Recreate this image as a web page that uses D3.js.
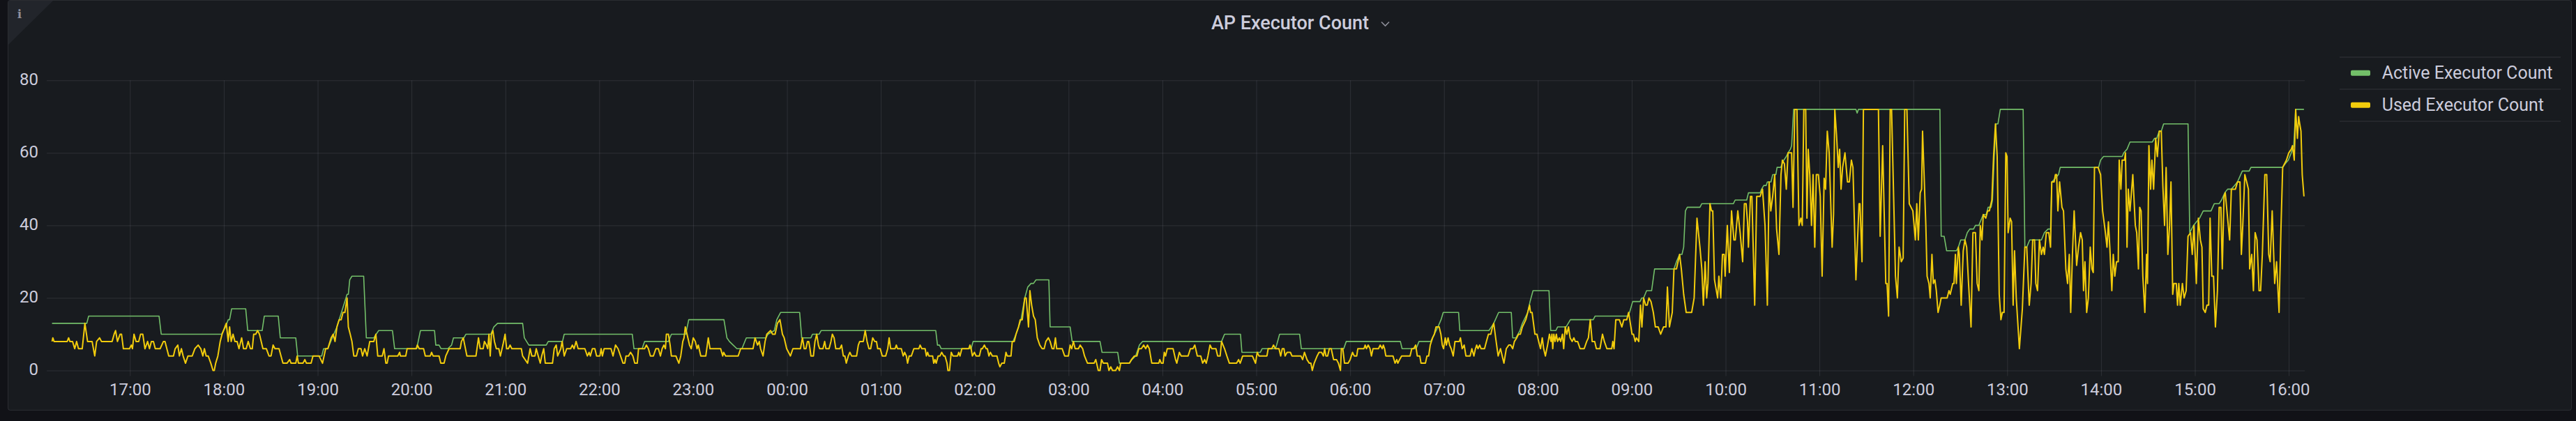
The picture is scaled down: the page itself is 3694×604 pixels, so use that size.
<!DOCTYPE html>
<html>
<head>
<meta charset="utf-8">
<title>AP Executor Count</title>
<script src="https://cdn.jsdelivr.net/npm/d3@7"></script>
<style>
  body { margin: 0; background: #111217; }
  svg { display: block; font-family: Roboto, Inter, sans-serif; }
</style>
</head>
<body>
<div id="chart"></div>
<script>
// minutes after 16:00 on the first day, value
var activePoints = [
  [10.2,13],[32.4,13],[33.6,15],[78.6,15],[80.0,10],[118.6,10],[121.1,12],[122.8,14],[123.7,14],[125.0,17],
  [134.0,17],[135.3,11],[144.5,11],[145.9,15],[154.8,15],[156.1,9],[166.0,9],[167.2,4],[182.6,4],[183.8,6],
  [186.5,6],[190.3,10],[192.3,12],[198.8,21],[199.6,21],[200.5,25],[201.9,26],[209.4,26],[211.1,9],[215.9,9],
  [219.0,11],[227.8,11],[229.2,6],[243.3,6],[245.7,11],[254.7,11],[255.5,7],[257.6,7],[258.9,6],[263.2,6],
  [265.6,7],[266.8,9],[273.5,9],[274.8,10],[290.7,10],[292.6,12],[295.0,13],[311.0,13],[312.1,9],[315.0,7],
  [326.1,7],[327.4,8],[336.5,8],[337.6,10],[381.1,10],[382.2,6],[387.4,6],[389.0,8],[404.2,8],[406.1,10],
  [415.3,10],[417.2,14],[439.7,14],[441.6,9],[443.2,8],[445.6,7],[448.0,6],[451.2,6],[454.0,9],[466.6,9],
  [467.9,10],[471.9,11],[473.5,14],[475.9,16],[488.1,16],[489.4,9],[495.3,9],[496.3,10],[500.6,10],[501.8,11],
  [575.1,11],[576.2,7],[577.5,7],[578.6,6],[597.7,6],[599.0,8],[624.5,8],[626.4,10],[629.6,14],[632.0,20],
  [633.9,23],[636.0,24],[637.6,24],[639.2,25],[647.4,25],[648.2,12],[661.0,12],[662.3,8],[680.1,8],[681.4,5],
  [691.4,5],[692.5,2],[698.9,2],[700.5,3],[702.9,4],[705.3,7],[707.3,8],[757.8,8],[759.7,10],[769.9,10],
  [770.8,5],[782.6,5],[783.7,6],[792.2,6],[793.0,7],[794.9,10],[807.7,10],[808.8,6],[835.9,6],[837.5,8],
  [872.1,8],[873.2,6],[882.2,6],[884.0,8],[891.5,8],[896.1,12],[898.1,14],[899.5,16],[909.3,16],[910.1,11],
  [928.7,11],[931.8,13],[934.9,16],[943.0,16],[943.9,9],[946.0,9],[948.5,11],[950.1,13],[953.5,16],[955.0,19],
  [956.9,22],[967.1,22],[968.2,11],[971.5,11],[972.6,12],[978.0,12],[980.8,14],[995.4,14],[996.6,15],[1017.5,15],
  [1018.6,16],[1020.6,19],[1025.3,19],[1026.4,20],[1027.6,20],[1029.5,22],[1032.7,22],[1034.6,28],[1047.0,28],[1048.6,30],
  [1050.6,32],[1052.1,32],[1053.2,34],[1054.3,44],[1055.5,45],[1063.6,45],[1064.8,46],[1085.0,46],[1086.1,47],[1093.5,47],
  [1094.6,49],[1102.1,49],[1103.0,50],[1104.4,51],[1105.9,51],[1106.7,52],[1109.0,52],[1110.1,54],[1112.1,54],[1112.9,56],
  [1115.2,56],[1117.2,58],[1118.8,59],[1119.9,60],[1121.4,61],[1122.2,62],[1123.5,72],[1163.3,72],[1164.1,71],[1164.9,72],
  [1217.0,72],[1217.8,37],[1219.7,37],[1221.3,33],[1227.5,33],[1228.8,34],[1230.3,36],[1233.0,36],[1234.5,38],[1236.1,39],
  [1238.5,39],[1239.7,40],[1241.9,40],[1242.8,41],[1244.7,43],[1246.6,43],[1247.8,45],[1249.7,45],[1250.6,47],[1251.7,59],
  [1252.8,68],[1254.1,68],[1255.6,72],[1270.2,72],[1271.3,34],[1272.5,34],[1274.4,36],[1281.9,36],[1283.8,38],[1286.1,39],
  [1287.7,39],[1288.5,52],[1290.8,53],[1292.8,54],[1293.9,56],[1318.4,56],[1319.7,58],[1321.6,59],[1333.5,59],[1334.5,60],
  [1336.6,61],[1338.5,63],[1352.8,63],[1354.1,64],[1355.6,64],[1357.2,66],[1358.5,66],[1360.0,68],[1375.6,68],[1376.7,38],
  [1379.1,40],[1381.0,41],[1383.0,42],[1385.3,44],[1390.3,44],[1392.4,46],[1395.5,46],[1397.0,47],[1399.1,49],[1400.9,50],
  [1403.3,50],[1405.3,51],[1407.2,52],[1410.3,55],[1414.7,55],[1415.8,56],[1436.1,56],[1437.7,57],[1439.7,58],[1441.6,60],
  [1443.2,62],[1444.4,72],[1449.7,72]
];

var usedPoints = [
  [10.2,8],[10.7,9],[11.5,8],[19.9,8],[20.8,9],[21.6,8],[23.3,8],[24.7,6],[25.9,8],[27.1,6],[29.5,6],[31.2,13],[32.9,8],[35.8,8],
  [37.5,4],[38.7,8],[40.6,9],[41.8,8],[48.6,8],[49.9,10],[50.8,11],[52.0,8],[53.7,10],[54.6,10],[55.8,6],[59.7,6],[60.9,7],[61.6,6],
  [62.6,10],[63.9,8],[65.6,8],[66.8,10],[68.2,10],[69.6,6],[71.3,8],[72.5,6],[73.7,8],[75.0,8],[76.2,6],[79.3,6],[81.4,8],[82.4,8],
  [84.8,4],[87.8,4],[88.9,6],[90.6,7],[91.6,4],[92.9,6],[94.0,4],[95.5,2],[97.1,4],[99.8,4],[101.5,6],[103.6,7],[105.3,6],[106.6,4],
  [107.6,6],[108.7,4],[110.0,4],[111.7,2],[113.1,0],[113.9,0],[114.8,2],[116.2,4],[117.7,8],[118.9,10],[121.6,13],[122.8,8],[123.7,12],[124.7,8],
  [125.9,10],[127.1,8],[128.5,8],[129.7,6],[131.4,9],[132.6,6],[134.3,6],[135.6,8],[137.0,6],[138.2,6],[139.1,10],[140.4,10],[141.6,11],[142.8,10],
  [145.0,6],[147.2,6],[148.9,4],[150.2,4],[151.5,7],[152.7,6],[155.3,6],[157.8,2],[160.4,2],[162.1,3],[163.0,2],[166.0,2],[166.9,4],[167.7,2],
  [170.6,2],[171.8,3],[172.8,2],[175.8,2],[177.0,4],[180.9,4],[183.1,2],[185.1,6],[186.5,6],[188.6,9],[189.9,10],[191.1,8],[192.3,12],[193.7,14],
  [195.0,14],[196.2,16],[197.4,16],[198.8,20],[199.6,12],[200.8,10],[201.9,8],[203.1,4],[204.8,4],[206.0,6],[207.7,6],[208.7,4],[210.1,6],[211.6,4],
  [213.3,8],[215.9,8],[217.2,10],[218.4,4],[221.3,4],[222.4,6],[223.6,2],[224.4,2],[225.3,4],[231.2,4],[232.4,5],[232.9,4],[236.3,4],[237.2,6],
  [243.0,6],[243.7,7],[244.9,6],[247.7,6],[248.8,4],[252.0,4],[252.8,5],[253.8,4],[257.6,4],[258.7,2],[260.8,2],[261.9,4],[264.0,6],[271.1,6],
  [271.9,8],[273.1,9],[274.0,7],[275.4,4],[281.2,4],[282.8,9],[283.9,6],[285.8,6],[286.6,8],[287.9,7],[288.7,6],[289.5,10],[290.3,4],[291.1,10],
  [292.0,11],[293.0,8],[294.2,6],[295.8,6],[296.8,4],[298.4,7],[299.8,10],[300.8,6],[301.9,6],[303.0,7],[304.1,6],[310.2,6],[311.0,4],[312.6,3],
  [314.2,2],[315.8,6],[316.9,4],[318.9,4],[319.7,6],[321.0,4],[322.3,2],[323.2,4],[324.5,6],[325.5,2],[330.1,2],[331.2,6],[332.5,7],[333.4,4],
  [335.4,6],[336.3,8],[337.6,4],[339.2,6],[341.7,6],[342.8,7],[343.9,6],[345.2,8],[346.5,6],[350.8,6],[352.4,4],[353.5,5],[354.3,4],[355.6,6],
  [357.2,6],[358.3,4],[360.4,4],[361.2,6],[362.0,4],[363.1,6],[367.5,6],[368.8,4],[370.4,7],[372.0,6],[373.6,4],[375.2,2],[376.3,2],[377.1,4],
  [378.7,4],[380.0,5],[381.5,4],[382.7,2],[384.3,2],[385.1,6],[389.0,6],[390.1,7],[391.4,6],[392.7,4],[394.6,4],[396.2,6],[397.8,6],[399.1,4],
  [400.2,6],[401.3,7],[402.3,6],[402.9,10],[404.2,10],[405.3,7],[406.1,4],[409.0,4],[409.9,3],[410.9,2],[412.1,4],[413.4,8],[414.2,9],[415.0,12],
  [416.1,10],[417.7,7],[418.8,6],[420.1,9],[421.4,8],[422.5,6],[423.3,7],[424.9,4],[428.1,4],[429.7,9],[430.8,6],[437.6,6],[438.9,4],[439.5,5],
  [440.8,4],[448.8,4],[450.4,6],[458.3,6],[459.6,9],[461.2,7],[462.3,8],[463.1,6],[464.7,4],[466.0,8],[467.1,10],[469.5,11],[470.8,10],[472.4,10],
  [473.9,13],[475.5,14],[477.1,10],[478.2,9],[479.8,6],[482.2,4],[483.8,6],[488.6,6],[489.9,9],[491.0,6],[492.1,6],[493.1,8],[493.9,8],[494.7,6],
  [495.3,4],[496.9,4],[497.9,8],[499.0,10],[500.1,7],[500.9,6],[503.0,6],[504.1,8],[504.9,6],[506.9,6],[508.1,8],[509.0,10],[510.1,9],[511.2,6],
  [513.8,6],[514.9,7],[516.0,4],[517.0,4],[517.9,2],[519.2,4],[520.2,5],[521.3,4],[524.5,4],[525.6,7],[526.5,8],[528.8,8],[530.0,11],[531.2,8],
  [532.4,6],[533.5,6],[534.8,9],[536.1,8],[537.2,8],[538.0,6],[539.6,6],[540.9,4],[543.1,4],[544.4,6],[545.3,9],[546.3,6],[549.1,6],[549.9,7],
  [550.7,6],[553.1,6],[554.3,4],[555.2,5],[556.3,4],[557.1,2],[558.1,4],[559.5,4],[561.1,6],[564.3,6],[565.1,7],[566.2,6],[568.3,6],[569.1,4],
  [569.9,5],[570.7,4],[573.1,4],[573.8,2],[574.6,3],[575.4,2],[576.6,4],[577.8,4],[578.9,5],[580.2,4],[581.0,4],[582.3,2],[582.9,0],[583.9,0],
  [585.0,5],[586.1,4],[589.0,4],[589.8,5],[590.6,4],[591.8,6],[596.2,6],[597.0,7],[597.7,6],[598.5,4],[599.8,5],[600.9,4],[603.0,4],[604.1,6],
  [604.9,6],[606.2,7],[607.3,6],[608.1,6],[609.1,4],[610.0,5],[611.3,4],[614.2,4],[615.3,2],[616.1,1],[617.3,2],[618.9,2],[620.0,5],[620.8,4],
  [623.2,4],[624.0,8],[625.3,8],[626.4,10],[628.0,12],[629.1,14],[630.4,14],[632.0,20],[632.9,20],[634.4,12],[635.3,22],[636.4,18],[637.6,15],[638.7,14],
  [640.0,9],[641.6,7],[643.1,6],[644.4,6],[645.5,8],[647.1,9],[648.2,8],[649.5,6],[650.6,6],[651.6,9],[652.4,6],[655.9,6],[657.5,4],[659.9,4],
  [661.0,7],[662.0,6],[663.1,8],[664.2,6],[666.3,6],[667.4,7],[669.0,6],[670.2,4],[672.1,2],[676.3,2],[677.4,3],[679.0,0],[680.1,0],[681.1,3],
  [682.2,2],[684.9,2],[685.8,0],[687.0,1],[688.1,0],[690.1,0],[691.3,1],[692.5,0],[693.3,2],[698.9,2],[700.2,3],[702.1,4],[703.7,4],[704.9,6],
  [706.5,6],[708.0,7],[709.3,6],[710.4,7],[711.6,6],[713.2,2],[717.7,2],[718.3,3],[719.3,2],[720.4,2],[721.2,5],[722.0,4],[723.1,6],[726.8,6],
  [728.4,3],[729.2,2],[730.8,5],[732.0,4],[736.4,4],[737.9,6],[739.5,6],[740.7,7],[742.3,4],[744.5,4],[745.7,2],[747.0,3],[748.0,2],[749.1,4],
  [750.4,7],[751.6,6],[754.2,6],[755.3,4],[756.9,4],[757.8,8],[759.7,6],[761.2,4],[762.8,2],[767.4,2],[768.7,3],[769.7,2],[771.3,4],[777.5,4],
  [779.5,2],[780.6,5],[781.7,4],[786.8,4],[787.6,6],[789.9,6],[791.0,7],[792.2,6],[794.5,6],[795.6,4],[796.6,6],[797.7,6],[798.4,4],[799.7,5],
  [801.8,5],[802.8,4],[808.5,4],[809.6,3],[810.8,5],[812.4,3],[813.9,2],[814.9,2],[815.8,0],[817.0,2],[818.9,4],[820.1,5],[821.7,5],[822.9,4],
  [823.7,6],[824.5,4],[825.6,4],[826.7,6],[827.9,6],[829.4,3],[831.3,3],[832.5,2],[833.8,0],[834.4,6],[835.3,6],[836.4,2],[838.7,2],[840.0,3],
  [841.5,5],[842.6,4],[844.2,4],[844.9,6],[848.8,6],[849.6,7],[850.4,6],[851.5,7],[852.7,6],[853.6,4],[854.6,6],[858.1,6],[859.2,7],[860.5,6],
  [861.2,7],[862.0,6],[862.8,4],[867.4,4],[868.7,2],[869.8,3],[870.5,2],[871.6,3],[872.9,4],[878.3,4],[879.4,6],[880.6,6],[881.9,7],[882.9,4],
  [884.5,4],[885.3,2],[888.1,2],[889.1,4],[890.2,4],[891.2,7],[892.7,9],[893.8,10],[894.9,12],[896.9,12],[898.0,10],[898.9,7],[899.7,6],[900.8,9],
  [901.5,7],[902.6,9],[903.6,7],[904.6,6],[905.9,4],[907.0,8],[909.8,8],[910.5,9],[911.6,6],[912.9,7],[914.0,4],[916.7,4],[917.8,6],[919.1,4],
  [920.1,6],[920.9,7],[921.7,6],[922.8,7],[923.7,6],[925.9,6],[927.1,8],[928.4,10],[929.9,10],[931.0,12],[931.8,13],[933.0,9],[934.6,4],[936.1,6],
  [937.2,4],[938.3,2],[939.8,6],[941.4,7],[942.6,7],[943.9,6],[945.0,8],[946.5,9],[947.6,10],[948.8,10],[950.1,12],[951.2,13],[952.3,14],[953.5,16],
  [954.7,18],[955.3,16],[956.3,16],[958.1,10],[959.4,10],[960.5,8],[961.7,6],[962.8,9],[963.7,6],[964.8,4],[966.2,7],[967.4,10],[968.4,8],[969.0,10],
  [969.5,6],[970.2,10],[971.0,8],[971.8,10],[972.6,8],[973.7,9],[974.6,8],[975.7,10],[976.5,6],[977.5,12],[978.5,10],[979.6,12],[980.6,9],[981.9,8],
  [983.0,9],[983.9,8],[985.4,8],[987.0,6],[989.6,6],[991.2,8],[992.3,9],[993.5,14],[994.7,8],[996.3,8],[997.4,6],[999.7,6],[1001.3,10],[1002.5,8],
  [1004.1,6],[1007.2,6],[1007.9,8],[1008.7,6],[1009.8,14],[1012.1,14],[1013.7,12],[1014.9,14],[1016.8,14],[1018.0,16],[1019.1,13],[1020.2,10],[1021.1,10],[1022.2,8],
  [1023.0,9],[1024.5,8],[1025.6,18],[1026.5,12],[1027.6,20],[1028.9,18],[1029.9,18],[1031.0,20],[1032.3,19],[1033.8,16],[1035.1,12],[1036.9,12],[1038.5,10],[1040.3,12],
  [1041.9,12],[1042.8,23],[1044.1,12],[1045.9,16],[1047.0,28],[1048.6,28],[1050.6,32],[1051.7,28],[1053.2,21],[1054.8,16],[1058.3,16],[1059.9,20],[1061.7,42],[1063.6,34],
  [1064.8,28],[1065.8,18],[1066.9,30],[1067.9,20],[1068.7,24],[1070.0,46],[1071.0,44],[1071.8,44],[1072.9,25],[1074.9,20],[1075.7,26],[1076.9,20],[1078.0,32],[1079.1,32],
  [1079.7,26],[1081.1,40],[1082.4,27],[1083.8,44],[1085.3,36],[1086.2,36],[1087.8,44],[1089.3,38],[1090.9,30],[1092.0,46],[1093.1,46],[1094.0,41],[1094.6,34],[1095.9,48],
  [1096.8,48],[1098.6,18],[1099.9,48],[1102.1,48],[1103.6,50],[1105.2,40],[1106.7,18],[1107.8,52],[1108.9,44],[1110.1,48],[1111.4,54],[1112.6,39],[1114.1,32],[1115.4,54],
  [1116.3,58],[1117.6,57],[1118.8,50],[1119.9,60],[1122.2,60],[1123.1,45],[1124.2,72],[1125.6,72],[1126.9,40],[1128.1,42],[1129.0,40],[1130.0,72],[1131.2,72],[1132.0,42],
  [1132.8,61],[1133.8,54],[1134.9,40],[1135.9,54],[1137.0,34],[1138.0,54],[1139.3,54],[1140.5,48],[1141.7,26],[1143.0,53],[1143.9,50],[1145.0,66],[1146.2,60],[1148.1,34],
  [1149.0,43],[1149.8,72],[1150.9,65],[1152.0,56],[1152.9,61],[1153.8,50],[1154.8,56],[1156.3,60],[1157.9,52],[1159.1,52],[1160.4,58],[1161.4,56],[1163.3,25],[1165.3,46],
  [1165.9,46],[1167.2,30],[1168.1,72],[1177.7,72],[1178.8,37],[1180.4,62],[1182.4,24],[1183.2,24],[1184.2,15],[1185.2,72],[1186.1,72],[1187.3,50],[1188.6,26],[1189.8,20],
  [1190.9,34],[1192.3,30],[1193.5,31],[1194.5,72],[1195.9,72],[1197.4,46],[1199.7,44],[1201.3,36],[1202.2,46],[1203.2,36],[1204.4,49],[1205.3,50],[1205.9,66],[1207.2,50],
  [1208.0,40],[1208.8,26],[1210.0,24],[1210.8,20],[1211.9,32],[1212.8,24],[1213.8,25],[1214.7,22],[1215.8,16],[1216.9,18],[1217.8,20],[1221.6,20],[1222.8,22],[1223.6,21],
  [1225.2,24],[1226.0,24],[1226.9,32],[1227.5,24],[1228.8,34],[1229.4,32],[1230.6,18],[1231.9,33],[1233.0,36],[1234.1,34],[1235.3,24],[1236.9,12],[1238.1,38],[1239.7,38],
  [1240.8,24],[1241.9,22],[1242.8,40],[1243.9,36],[1244.7,43],[1246.3,42],[1247.5,44],[1248.6,44],[1250.2,47],[1251.3,59],[1252.5,68],[1253.6,59],[1254.9,21],[1256.0,14],
  [1256.9,16],[1258.0,16],[1259.1,60],[1259.9,59],[1260.6,38],[1261.9,42],[1262.8,41],[1263.8,18],[1264.7,33],[1265.8,20],[1267.8,6],[1269.7,17],[1271.3,34],[1272.5,34],
  [1274.1,18],[1275.3,24],[1276.3,36],[1277.5,36],[1278.3,24],[1279.4,22],[1280.6,36],[1281.9,32],[1283.0,34],[1283.8,32],[1285.0,38],[1286.6,38],[1287.7,34],[1288.5,52],
  [1290.0,52],[1290.8,54],[1291.6,54],[1292.4,44],[1293.5,52],[1295.0,45],[1296.0,44],[1297.5,28],[1298.6,24],[1299.7,32],[1300.6,16],[1301.7,32],[1302.8,44],[1304.4,29],
  [1305.6,34],[1306.9,38],[1308.0,36],[1308.8,22],[1309.7,30],[1310.8,16],[1311.9,20],[1313.1,34],[1314.2,28],[1315.0,27],[1315.8,56],[1318.1,56],[1319.7,54],[1321.0,44],
  [1322.5,39],[1323.8,34],[1324.7,41],[1325.6,34],[1326.9,22],[1327.8,32],[1328.8,26],[1329.9,30],[1331.0,30],[1331.6,58],[1332.7,50],[1333.5,58],[1335.0,58],[1335.6,60],
  [1336.6,34],[1337.4,50],[1338.5,44],[1340.3,54],[1341.9,40],[1342.8,38],[1343.9,28],[1344.7,45],[1345.6,44],[1346.7,26],[1348.0,16],[1349.1,32],[1349.7,24],[1350.6,62],
  [1351.7,50],[1352.5,58],[1353.6,50],[1354.9,64],[1356.0,59],[1357.2,66],[1358.5,66],[1359.5,51],[1360.6,40],[1361.6,56],[1362.7,32],[1363.8,40],[1364.7,52],[1365.8,21],
  [1366.6,24],[1368.1,24],[1368.9,18],[1369.7,24],[1370.6,18],[1372.0,24],[1373.1,20],[1374.4,22],[1375.6,37],[1377.2,38],[1378.3,32],[1379.4,40],[1380.9,24],[1382.2,42],
  [1383.5,36],[1384.5,34],[1385.3,17],[1386.6,16],[1387.7,18],[1388.8,18],[1389.7,42],[1390.8,26],[1391.9,26],[1393.1,12],[1394.4,22],[1395.5,45],[1396.6,45],[1397.5,28],
  [1398.6,48],[1399.4,49],[1400.9,42],[1402.2,36],[1403.3,50],[1404.9,50],[1405.9,50],[1407.2,52],[1408.8,52],[1409.7,32],[1410.6,40],[1411.9,54],[1413.1,52],[1414.2,50],
  [1415.0,28],[1416.3,32],[1417.4,22],[1418.5,38],[1419.7,36],[1421.0,22],[1422.0,22],[1423.1,32],[1424.7,54],[1425.9,54],[1427.2,32],[1428.1,30],[1429.4,44],[1431.0,24],
  [1432.2,30],[1433.8,16],[1435.0,39],[1436.1,56],[1438.5,58],[1440.0,60],[1441.6,61],[1442.4,62],[1443.5,58],[1444.4,72],[1445.5,64],[1446.3,70],[1447.0,68],[1447.8,66],
  [1448.6,54],[1449.7,48]
];

var seriesNames = ["Active Executor Count", "Used Executor Count"];
var seriesColors = ["#73bf69", "#f2cc0c"];
var yTicks = [0, 20, 40, 60, 80];
var rangeMinutes = [6.8, 1450.2];
var chartTitle = "AP Executor Count";

var width = 3694;
var height = 604;
var plotLeft = 67, plotRight = 3305, plotTop = 115.3, plotBottom = 531.5;
var textColor = "#ccccdc";
var gridColor = "rgba(204,204,220,0.12)";

var base = new Date(2024, 0, 1, 16, 0, 0);
function toTime(m) { return new Date(base.getTime() + m * 60000); }

var svg = d3.select("#chart")
  .append("svg")
  .attr("width", width)
  .attr("height", height);

// panel
svg.append("rect")
  .attr("x", 11.5).attr("y", 0.5)
  .attr("width", 3676).attr("height", 588)
  .attr("rx", 3)
  .attr("fill", "#181b1f")
  .attr("stroke", "rgba(204,204,220,0.12)");

svg.append("path")
  .attr("d", "M12,1 L76,1 L12,64 Z")
  .attr("fill", "#22252b");

svg.append("text")
  .attr("x", 28).attr("y", 26)
  .attr("text-anchor", "middle")
  .style("font-family", "'DejaVu Serif', serif")
  .style("font-weight", "bold")
  .style("font-size", "17px")
  .style("fill", "#8e8f9a")
  .text("i");

// title
svg.append("text")
  .attr("x", 1850).attr("y", 42.3)
  .attr("text-anchor", "middle")
  .style("font-size", "27px")
  .style("font-weight", "500")
  .style("fill", textColor)
  .text(chartTitle);

svg.append("path")
  .attr("d", "M1981,31.5 L1986.5,37 L1992,31.5")
  .attr("fill", "none")
  .attr("stroke", "#8e8f9a")
  .attr("stroke-width", 1.6);

// scales
var x = d3.scaleTime()
  .domain(rangeMinutes.map(toTime))
  .range([plotLeft, plotRight]);

var y = d3.scaleLinear()
  .domain([0, 80])
  .range([plotBottom, plotTop]);

// axes + grid
var xAxis = d3.axisBottom(x)
  .ticks(d3.timeHour.every(1))
  .tickFormat(d3.timeFormat("%H:%M"))
  .tickSize(-(plotBottom + 8 - plotTop))
  .tickPadding(10.5);

var yAxis = d3.axisLeft(y)
  .tickValues(yTicks)
  .tickSize(-(plotRight - plotLeft))
  .tickPadding(12);

var gx = svg.append("g")
  .attr("transform", "translate(0," + (plotBottom + 8) + ")")
  .call(xAxis);

var gy = svg.append("g")
  .attr("transform", "translate(" + plotLeft + ",0)")
  .call(yAxis);

[gx, gy].forEach(function (g) {
  g.select(".domain").remove();
  g.selectAll(".tick line").attr("stroke", gridColor);
  g.selectAll(".tick text")
    .style("fill", textColor)
    .style("font-size", "24px")
    .style("font-family", "Roboto, Inter, sans-serif");
});
gy.selectAll(".tick text").attr("dy", "0.27em");

// lines
var line = d3.line()
  .x(function (d) { return x(toTime(d[0])); })
  .y(function (d) { return y(d[1]); });

svg.append("path")
  .datum(activePoints)
  .attr("d", line)
  .attr("fill", "none")
  .attr("stroke", seriesColors[0])
  .attr("stroke-width", 1.6)
  .attr("stroke-linejoin", "round");

svg.append("path")
  .datum(usedPoints)
  .attr("d", line)
  .attr("fill", "none")
  .attr("stroke", seriesColors[1])
  .attr("stroke-width", 2)
  .attr("stroke-linejoin", "round");

// legend
var legend = svg.append("g");
var rowH = 46;
[82, 82 + rowH, 82 + 2 * rowH].forEach(function (ly) {
  legend.append("line")
    .attr("x1", 3355).attr("x2", 3672)
    .attr("y1", ly).attr("y2", ly)
    .attr("stroke", "rgba(204,204,220,0.1)")
    .attr("stroke-width", 1.5);
});

legend.selectAll("rect.sw")
  .data(seriesNames)
  .enter()
  .append("rect")
  .attr("class", "sw")
  .attr("x", 3371)
  .attr("y", function (d, i) { return 100.7 + i * rowH; })
  .attr("width", 28)
  .attr("height", 8)
  .attr("rx", 2)
  .attr("fill", function (d, i) { return seriesColors[i]; });

legend.selectAll("text.lbl")
  .data(seriesNames)
  .enter()
  .append("text")
  .attr("class", "lbl")
  .attr("x", 3415.7)
  .attr("y", function (d, i) { return 113.3 + i * rowH; })
  .style("font-size", "25px")
  .style("fill", textColor)
  .text(function (d) { return d; });
</script>
</body>
</html>
